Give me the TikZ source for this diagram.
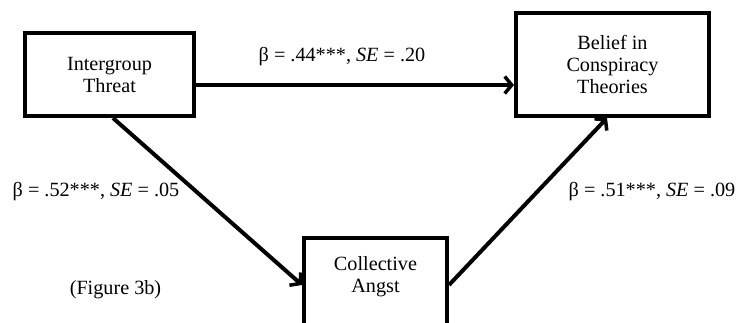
\documentclass[tikz,border=0pt]{standalone}
\usepackage{fontspec}
\setmainfont{Liberation Serif}
\usetikzlibrary{arrows.meta,calc}
\begin{document}
\begin{tikzpicture}[x=1pt,y=1pt,
  box/.style={draw=black,line width=4pt,rectangle,inner sep=0pt,align=center,
    font=\fontsize{20.2}{22}\selectfont},
  lbl/.style={inner sep=0pt,font=\fontsize{20.2}{22}\selectfont},
  conn/.style={line width=4pt,-{Straight Barb[length=7pt,width=17pt,line width=3.5pt]}}]
\useasboundingbox[fill=white] (0,0) rectangle (738,-323);
\clip (0,0) rectangle (738,-323);
\node[box,minimum width=169pt,minimum height=83pt] (threat) at (109.5,-74.5) {Intergroup\\Threat};
\node[box,minimum width=193pt,minimum height=103pt] (belief) at (612.5,-64.5) {Belief in\\Conspiracy\\Theories};
\node[box,minimum width=143pt,minimum height=94pt] (angst) at (375.5,-285) {};
\node[lbl,align=center] (angsttext) at (375.5,-277) {Collective\\Angst};
\node[lbl] (lab1) at (342,-57) {β = .44***, \textit{SE} = .20};
\node[lbl] (lab2) at (96,-192) {β = .52***, \textit{SE} = .05};
\node[lbl] (lab3) at (652,-192) {β = .51***, \textit{SE} = .09};
\node[lbl] (fig) at (115.5,-290) {(Figure 3b)};
\draw[conn] ([yshift=-10.5pt]threat.east) -- ([yshift=-20.5pt]belief.west);
\draw[conn] ([xshift=3.5pt]threat.south) -- (angst.west);
\draw[conn] (angst.east) -- ([xshift=-5.5pt]belief.south);
\end{tikzpicture}
\end{document}
